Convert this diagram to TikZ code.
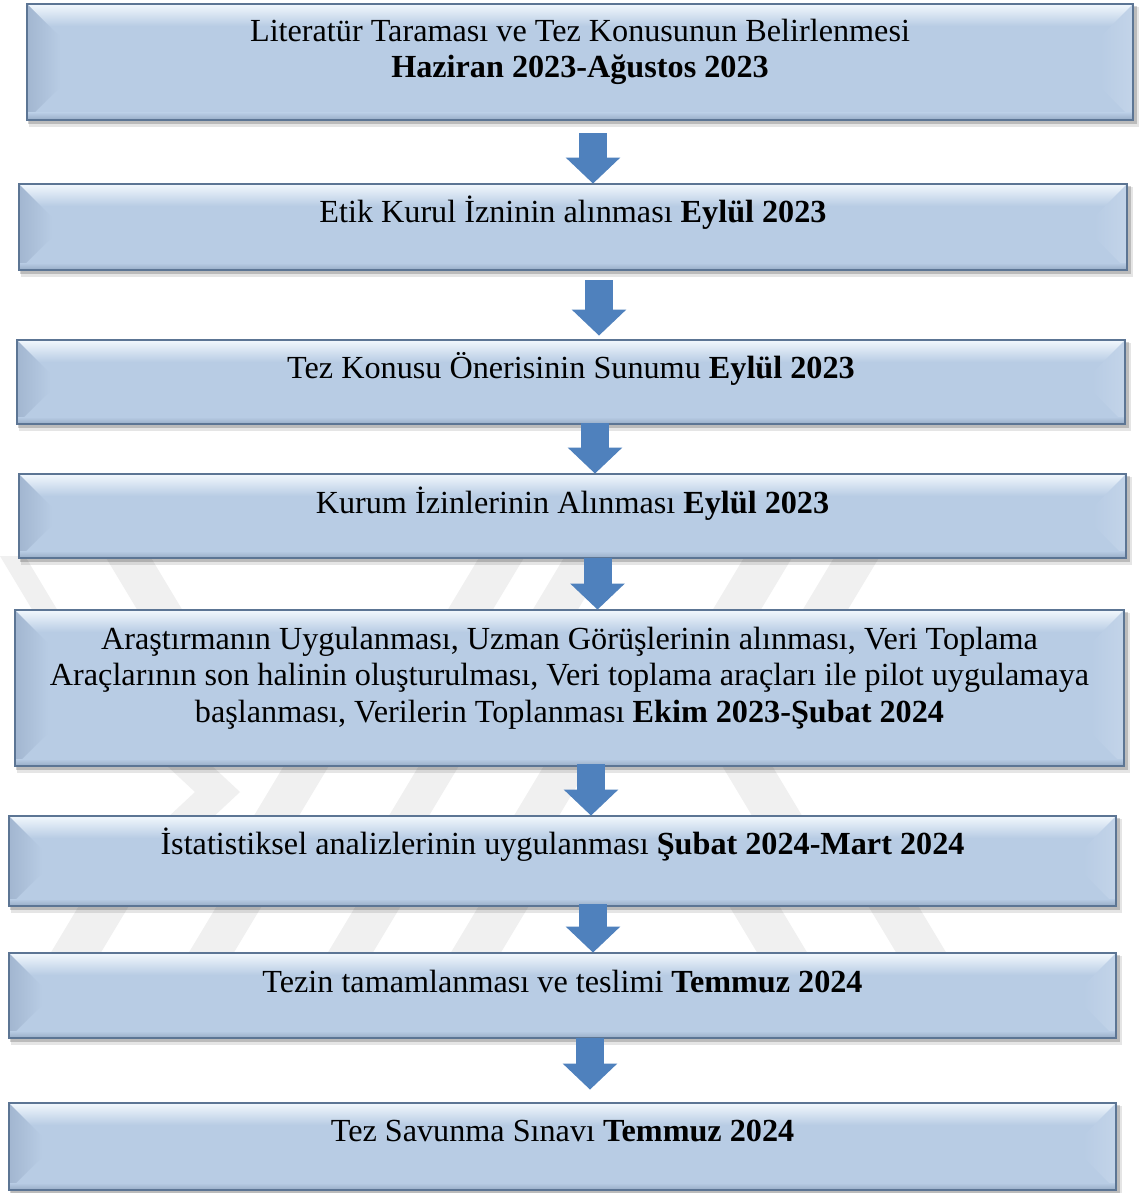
\documentclass[tikz,border=0pt]{standalone}
\usepackage{fontspec}
\setmainfont{Liberation Serif}
\usetikzlibrary{arrows.meta,calc,fit}
\definecolor{basec}{HTML}{B8CCE4}
\definecolor{topc}{HTML}{F2F8FD}
\definecolor{leftc}{HTML}{A2B6D0}
\definecolor{rightc}{HTML}{C3D4E9}
\definecolor{botc}{HTML}{97ACC6}
\definecolor{bordc}{HTML}{5C7594}
\definecolor{arrc}{HTML}{4F81BD}
\definecolor{wmc}{HTML}{F0F0F0}
\tikzset{
  txt/.style={align=center,font=\fontsize{16.1}{18.25}\selectfont,inner sep=0pt},
  barrow/.style={arrc,line width=14pt,-{Triangle[width=26.5pt,length=13pt]}},
  wmark/.style={fill=wmc}
}
\newcommand\bevbox[7]{%
  \fill[black,opacity=.10] ({#2+2},{#3+3}) rectangle ({#4+6},{#5+7});
  \fill[black,opacity=.18] ({#2+1},{#3+2}) rectangle ({#4+4},{#5+4});
  \fill[basec] (#2,#3) rectangle (#4,#5);
  \shade[top color=topc,bottom color=basec] (#2,#3) rectangle (#4,{#3+22});
  \shade[left color=leftc,right color=basec] (#2,#3) -- ({#2+33},{#3+33}) -- ({#2+33},{#5-33}) -- (#2,#5) -- cycle;
  \shade[left color=basec,right color=rightc] (#4,#3) -- ({#4-33},{#3+33}) -- ({#4-33},{#5-33}) -- (#4,#5) -- cycle;
  \shade[top color=basec,bottom color=botc] (#2,{#5-7}) rectangle (#4,#5);
  \draw[bordc,line width=1.4pt] (#2,#3) rectangle (#4,#5);
  \node[fit={(#2,#3)(#4,#5)},inner sep=0pt] (#1) {};
  \node[txt] (#1t) at ({(#2+#4)/2},#6) {#7};
}
% "/" band: ytop ybot xleft width
\newcommand\wmf[4]{\fill[wmark] (#3,#1) -- ({#3+#4},#1) -- ({#3+#4-0.6*(#2-#1)},#2) -- ({#3-0.6*(#2-#1)},#2) -- cycle;}
% "\" band
\newcommand\wmb[4]{\fill[wmark] (#3,#1) -- ({#3+#4},#1) -- ({#3+#4+0.6*(#2-#1)},#2) -- ({#3+0.6*(#2-#1)},#2) -- cycle;}
\begin{document}
\begin{tikzpicture}[x=0.5pt,y=-0.5pt]
\useasboundingbox (0,0) rectangle (1142,1193);
\fill[white] (0,0) rectangle (1142,1193);
% faint watermark
\wmb{556}{614}{0}{25}\wmb{556}{614}{105}{45}
\wmf{556}{614}{480}{45}\wmf{556}{614}{565}{45}\wmf{556}{614}{745}{48}\wmf{556}{614}{835}{45}
\fill[wmark] (165,764) -- (210,764) -- (240,792) -- (210,820) -- (165,820) -- (195,792) -- cycle;
\wmf{764}{820}{285}{45}\wmf{764}{820}{420}{40}\wmf{764}{820}{545}{45}
\wmb{764}{820}{721}{50}
\wmf{904}{957}{80}{50}\wmf{904}{957}{218}{45}\wmf{904}{957}{357}{45}\wmf{904}{957}{480}{50}
\wmb{904}{957}{728}{50}\wmb{904}{957}{867}{50}
% boxes
\bevbox{b1}{27}{4}{1133}{120}{52}{Literatür Taraması ve Tez Konusunun Belirlenmesi\\\textbf{Haziran 2023-Ağustos 2023}}
\bevbox{b2}{19}{184}{1127}{270}{213}{Etik Kurul İzninin alınması \textbf{Eylül 2023}}
\bevbox{b3}{17}{340}{1125}{424}{369}{Tez Konusu Önerisinin Sunumu \textbf{Eylül 2023}}
\bevbox{b4}{19}{474}{1126}{558}{504}{Kurum İzinlerinin Alınması \textbf{Eylül 2023}}
\bevbox{b5}{15}{610}{1124}{766}{678}{Araştırmanın Uygulanması, Uzman Görüşlerinin alınması, Veri Toplama\\Araçlarının son halinin oluşturulması, Veri toplama araçları ile pilot uygulamaya\\başlanması, Verilerin Toplanması \textbf{Ekim 2023-Şubat 2024}}
\bevbox{b6}{9}{816}{1116}{906}{845}{İstatistiksel analizlerinin uygulanması \textbf{Şubat 2024-Mart 2024}}
\bevbox{b7}{9}{953}{1116}{1038}{982}{Tezin tamamlanması ve teslimi \textbf{Temmuz 2024}}
\bevbox{b8}{9}{1103}{1116}{1190}{1131}{Tez Savunma Sınavı \textbf{Temmuz 2024}}
% arrows
\draw[barrow] ($(b1.south)+(13,13)$) -- ($(b2.north)+(20,0)$);
\draw[barrow] ($(b2.south)+(26,10)$) -- ($(b3.north)+(28,-4)$);
\draw[barrow] ($(b3.south)+(24,-1)$) -- ($(b4.north)+(22.5,0)$);
\draw[barrow] ($(b4.south)+(25,0)$) -- ($(b5.north)+(28,0)$);
\draw[barrow] ($(b5.south)+(21.5,-2)$) -- ($(b6.north)+(28.5,0)$);
\draw[barrow] ($(b6.south)+(30.5,-2)$) -- ($(b7.north)+(30.5,0)$);
\draw[barrow] ($(b7.south)+(27.5,0)$) -- ($(b8.north)+(27.5,-13)$);
\end{tikzpicture}
\end{document}
